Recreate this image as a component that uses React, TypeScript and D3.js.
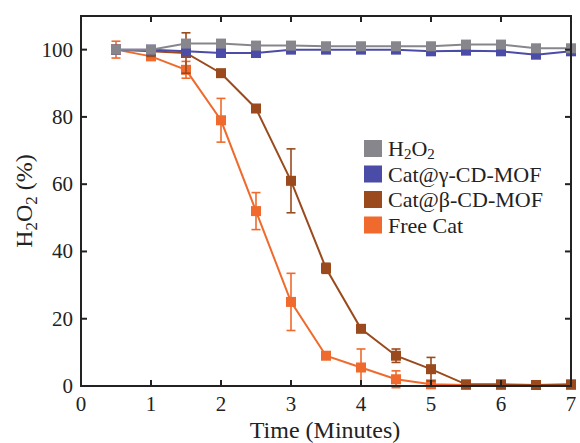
import React from "react";
import * as d3 from "d3";

const times = [0.5, 1, 1.5, 2, 2.5, 3, 3.5, 4, 4.5, 5, 5.5, 6, 6.5, 7];

const h2o2 = [100, 100, 101.8, 101.8, 101.2, 101.2, 101, 101, 101, 101, 101.5, 101.5, 100.4, 100.4];
const h2o2Err = [0.6, 0.6, 0.8, 0.8, 0.6, 0.6, 0.6, 0.6, 0.6, 0.6, 0.6, 0.6, 0.6, 0.6];

const catGamma = [100, 100, 99.5, 99, 99, 100, 100, 100, 100, 99.5, 99.7, 99.5, 98.5, 99.5];
const catGammaErr = [0.5, 0.5, 0.5, 0.5, 0.5, 0.5, 0.5, 0.5, 0.5, 0.5, 0.5, 0.5, 0.5, 0.5];

const catBeta = [100, 99.5, 99, 93, 82.5, 61, 35, 17, 9, 5, 0.5, 0.5, 0.3, 0.5];
const catBetaErr = [0.5, 1.5, 6, 0.5, 1, 9.5, 1.5, 1, 2, 3.5, 0.5, 0.5, 0.5, 0.5];

const freeCat = [100, 98, 94, 79, 52, 25, 9, 5.5, 2, 0.5, 0.3, 0.3, 0.3, 0.3];
const freeCatErr = [2.5, 1, 2.5, 6.5, 5.5, 8.5, 0.5, 5.5, 2.5, 0.5, 0.3, 0.3, 0.3, 0.3];

const xTicks = [0, 1, 2, 3, 4, 5, 6, 7];
const yTicks = [0, 20, 40, 60, 80, 100];

const series = [
  { name: "H2O2", values: h2o2, err: h2o2Err, color: "#86868c" },
  { name: "Cat@γ-CD-MOF", values: catGamma, err: catGammaErr, color: "#4b4ba8" },
  { name: "Cat@β-CD-MOF", values: catBeta, err: catBetaErr, color: "#9a4a1c" },
  { name: "Free Cat", values: freeCat, err: freeCatErr, color: "#ef6a2c" },
];

const W = 580;
const H = 443;
const margin = { top: 16, right: 9, bottom: 57, left: 81 };
const font = "'Liberation Serif', 'Times New Roman', serif";

export default function App() {
  const x = d3.scaleLinear().domain([0, 7]).range([margin.left, W - margin.right]);
  const y = d3.scaleLinear().domain([0, 110]).range([H - margin.bottom, margin.top]);
  const line = d3
    .line<number>()
    .x((_, i) => x(times[i]))
    .y((d) => y(d));

  const x0 = margin.left;
  const x1 = W - margin.right;
  const y0 = H - margin.bottom;
  const y1 = margin.top;
  const tk = 6;
  const ms = 10;

  return (
    <svg
      width={W}
      height={H}
      style={{ position: "absolute", left: 0, top: 0, background: "#fff" }}
      fontFamily={font}
    >
      {/* series, drawn back to front */}
      {[...series].reverse().map((s) => (
        <g key={s.name}>
          <path d={line(s.values) || ""} fill="none" stroke={s.color} strokeWidth={2} />
          {s.values.map((v, i) => (
            <g key={i} stroke={s.color} strokeWidth={1.6}>
              <line x1={x(times[i])} x2={x(times[i])} y1={y(v - s.err[i])} y2={y(v + s.err[i])} />
              <line x1={x(times[i]) - 4.5} x2={x(times[i]) + 4.5} y1={y(v - s.err[i])} y2={y(v - s.err[i])} />
              <line x1={x(times[i]) - 4.5} x2={x(times[i]) + 4.5} y1={y(v + s.err[i])} y2={y(v + s.err[i])} />
            </g>
          ))}
          {s.values.map((v, i) => (
            <rect
              key={"m" + i}
              x={x(times[i]) - ms / 2}
              y={y(v) - ms / 2}
              width={ms}
              height={ms}
              fill={s.color}
            />
          ))}
        </g>
      ))}

      {/* axes box */}
      <rect x={x0} y={y1} width={x1 - x0} height={y0 - y1} fill="none" stroke="#222" strokeWidth={2} />
      {xTicks.map((t) => (
        <g key={"x" + t}>
          <line x1={x(t)} x2={x(t)} y1={y0} y2={y0 - tk} stroke="#222" strokeWidth={2} />
          <line x1={x(t)} x2={x(t)} y1={y1} y2={y1 + tk} stroke="#222" strokeWidth={2} />
          <text x={x(t)} y={y0 + 25} textAnchor="middle" fontSize={21} fill="#222">
            {t}
          </text>
        </g>
      ))}
      {yTicks.map((t) => (
        <g key={"y" + t}>
          <line x1={x0} x2={x0 + tk} y1={y(t)} y2={y(t)} stroke="#222" strokeWidth={2} />
          <line x1={x1} x2={x1 - tk} y1={y(t)} y2={y(t)} stroke="#222" strokeWidth={2} />
          <text x={x0 - 8} y={y(t) + 7} textAnchor="end" fontSize={21} fill="#222">
            {t}
          </text>
        </g>
      ))}

      {/* axis titles */}
      <text x={(x0 + x1) / 2 - 1} y={438} textAnchor="middle" fontSize={24} fill="#222">
        Time (Minutes)
      </text>
      <text
        transform={`translate(32,${(y0 + y1) / 2}) rotate(-90)`}
        textAnchor="middle"
        fontSize={24}
        fill="#222"
      >
        H<tspan fontSize={17} dy={5}>2</tspan>
        <tspan dy={-5}>O</tspan>
        <tspan fontSize={17} dy={5}>2</tspan>
        <tspan dy={-5}> (%)</tspan>
      </text>

      {/* legend */}
      {series.map((s, i) => (
        <g key={"l" + s.name} transform={`translate(364,${140 + i * 25.5})`}>
          <rect x={0} y={0} width={18} height={17} fill={s.color} />
          <text x={24} y={16} fontSize={22} fill="#222">
            {i === 0 ? (
              <>
                H<tspan fontSize={15} dy={3}>2</tspan>
                <tspan dy={-3}>O</tspan>
                <tspan fontSize={15} dy={3}>2</tspan>
              </>
            ) : (
              s.name
            )}
          </text>
        </g>
      ))}
    </svg>
  );
}
